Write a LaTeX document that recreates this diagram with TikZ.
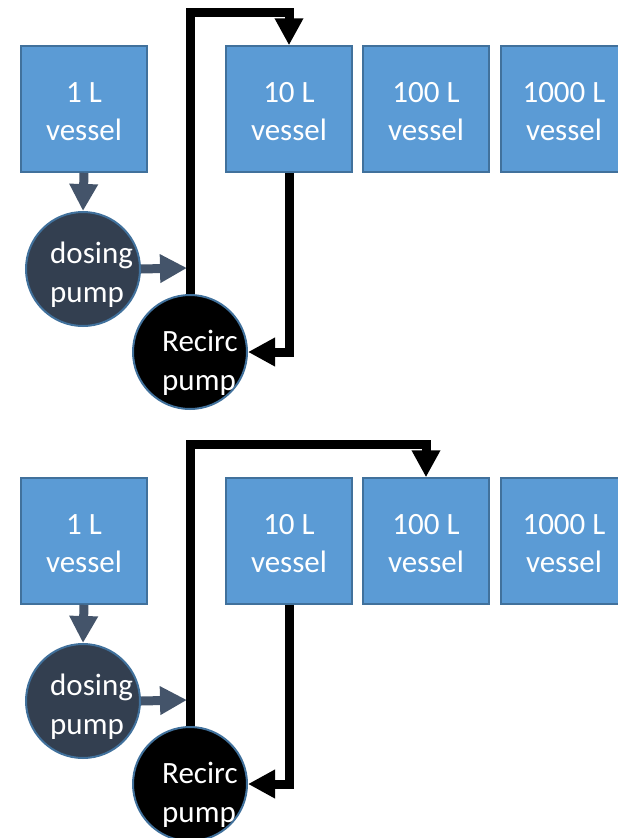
\documentclass[tikz,border=0pt]{standalone}
\usepackage{fontspec}
\setmainfont{Carlito}
\usetikzlibrary{arrows.meta}

\definecolor{vesselfill}{HTML}{5B9BD5}
\definecolor{vesseledge}{HTML}{41719C}
\definecolor{dosefill}{HTML}{333F50}
\definecolor{feedgray}{HTML}{44546A}

\tikzset{
  vessel/.style={rectangle, draw=vesseledge, fill=vesselfill, line width=1.5pt,
    minimum width=126pt, minimum height=126pt, inner sep=0pt,
    text=white, align=center, text height=63.5pt, text depth=0pt,
    font=\fontsize{31}{38}\selectfont},
  pumpbody/.style={circle, draw=vesseledge, line width=2pt,
    minimum size=114pt, inner sep=0pt},
  % anchored at the baseline of the last line ("pump")
  pumplabel/.style={anchor=base west, inner sep=0pt, text=white, align=left,
    font=\fontsize{31}{38.5}\selectfont},
  feed/.style={draw=feedgray, line width=9pt,
    -{Triangle[length=27pt, width=27pt, fill=feedgray]}},
  loop/.style={draw=black, line width=9pt,
    -{Triangle[length=27pt, width=27pt, fill=black]}},
}

\begin{document}
\begin{tikzpicture}[x=1pt, y=-1pt]
  \useasboundingbox (0,0) rectangle (618,838);
  \clip (0,0) rectangle (618,838);

  % ---- upper layout: recirculation into the 10 L vessel ----
  \node[vessel] (va1) at (84,109) {1 L\\vessel};
  \node[vessel] (va10) at (289,109) {10 L\\vessel};
  \node[vessel] (va100) at (426,109) {100 L\\vessel};
  \node[vessel] (va1000) at (564,109) {1000 L\\vessel};

  \node[pumpbody, fill=dosefill] (dpa) at (83,269) {};
  \node[pumpbody, fill=black] (rpa) at (190,352) {};

  \coordinate (ja) at (187,268);
  \coordinate (ta) at (289,12);

  \draw[feed] (va1.south) -- (dpa.north);
  \draw[feed] (dpa.east) -- (ja);
  \draw[loop] (rpa.north) |- (ta) -- (va10.north);
  \draw[loop] (va10.south) |- (rpa.east);

  \node[pumplabel] (dpatxt) at (50,302) {dosing\\pump};
  \node[pumplabel] (rpatxt) at (162,390) {Recirc\\pump};

  % ---- lower layout: recirculation into the 100 L vessel ----
  \node[vessel] (vb1) at (84,541) {1 L\\vessel};
  \node[vessel] (vb10) at (289,541) {10 L\\vessel};
  \node[vessel] (vb100) at (426,541) {100 L\\vessel};
  \node[vessel] (vb1000) at (564,541) {1000 L\\vessel};

  \node[pumpbody, fill=dosefill] (dpb) at (83,701) {};
  \node[pumpbody, fill=black] (rpb) at (190,784) {};

  \coordinate (jb) at (187,700);
  \coordinate (tb) at (426,444);

  \draw[feed] (vb1.south) -- (dpb.north);
  \draw[feed] (dpb.east) -- (jb);
  \draw[loop] (rpb.north) |- (tb) -- (vb100.north);
  \draw[loop] (vb10.south) |- (rpb.east);

  \node[pumplabel] (dpbtxt) at (50,734) {dosing\\pump};
  \node[pumplabel] (rpbtxt) at (162,822) {Recirc\\pump};
\end{tikzpicture}
\end{document}
